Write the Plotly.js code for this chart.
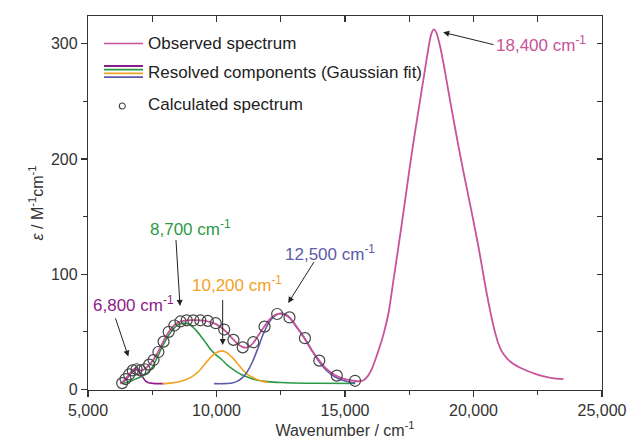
<!DOCTYPE html>
<html>
<head>
<meta charset="utf-8">
<script src="https://cdn.plot.ly/plotly-3.0.1.min.js"></script>
<style>html,body{margin:0;padding:0;background:#fff;}#chart{width:629px;height:441px;}</style>
</head>
<body>
<div id="chart"></div>
<script>
// Observed spectrum
var obsX = [6250,6350,6450,6550,6650,6750,6850,6950,7050,7150,7250,7350,7450,7550,7650,7750,7850,7950,8050,8150,8250,8350,8450,8550,8700,8850,9000,9200,9400,9600,9800,10000,10200,10400,10600,10800,11000,11150,11300,11450,11600,11750,11900,12050,12200,12350,12500,12650,12800,12950,13100,13250,13400,13550,13700,13850,14000,14200,14400,14600,14800,15000,15200,15400,15600,15750,15900,16050,16200,16350,16500,16700,16900,17100,17300,17500,17700,17900,18100,18250,18350,18450,18550,18700,18850,19000,19200,19400,19600,19800,20000,20200,20350,20500,20650,20800,20950,21100,21300,21500,21800,22100,22400,22700,23000,23300,23500];
var obsY = [5,6.5,9,11.5,14.5,17,18.5,17.5,16.5,17,18.5,20.5,23,26,29.5,33.5,38,42.5,46.5,50,53,55.5,57.2,58.5,59.5,60,60.2,60.2,60,59.3,58.2,56.5,53.5,49.5,44.5,40,37,36.3,37.5,41,46,51,56,60.3,63.5,65.3,65.8,65,63,59.5,55,50,45,39.5,34,29.5,25,19.5,15.5,12.5,10.5,9,8,7.3,7.2,8.5,12,18,27,37,48,67,97,127,158,190,220,248,276,297,308,312.5,310,298,281,262,237,213,190,168,146,123,104,85,68,53,41,33,27,23,19,16,13.5,11.5,10,9.2,9];

// Calculated spectrum (open circles)
var calcX = [6330,6460,6600,6740,6890,7040,7200,7380,7550,7740,7940,8140,8360,8600,8840,9100,9370,9660,9970,10300,10660,11020,11430,11870,12360,12840,13440,14000,14680,15390];
var calcY = [5.5,9,13,16.5,17.5,16.5,17.5,21.5,25.5,32.5,41.5,50,55.5,59,60,60,60,59.5,57.5,52,43,36.5,41,54.5,65.5,62.5,44.5,25,12,7.5];

// Resolved components (Gaussian fit)
var c6800X = [6330,6450,6550,6650,6750,6850,6950,7050,7150,7250,7350,7450,7600,7800,7950];
var c6800Y = [6,8,10.5,13.5,16,17.5,16.5,13,9.5,7,5.8,5.3,5,5,5];
var c8700X = [6330,6500,6700,6900,7100,7300,7500,7700,7900,8100,8300,8500,8700,8850,9000,9200,9400,9600,9800,10000,10200,10400,10600,10800,11000,11300,11600,12000,12500,13000,14000,15400];
var c8700Y = [5,6,7.5,9.5,11.5,14,19,28,37.5,45.5,52,56,57.5,57.2,55.5,51.5,46,40,34,29.5,26,21.5,18,15,12.5,10,8,6.8,6,5.6,5.3,5.2];
var c10200X = [7900,8200,8500,8800,9000,9200,9400,9600,9800,10000,10200,10400,10600,10800,11000,11200,11400,11600,11800,12000];
var c10200Y = [5,5.5,6.5,8.5,10.5,13.5,18,23.5,28.5,32,33.5,32,28,23,17.5,13,10.5,8.5,7,6];
var c12500X = [9900,10300,10600,10800,11000,11200,11400,11600,11800,12000,12200,12400,12550,12700,12900,13100,13300,13500,13700,13900,14100,14300,14600,14900,15200,15400];
var c12500Y = [5,5,5.5,7,10,15.5,24,35,47,56.5,62.5,65.5,66,65,61,54.5,49,42,34.5,27,21,16,11,8,6.3,5.8];

// Labels
var peakLabels = ['6,800','8,700','10,200','12,500','18,400'];
var legendLabels = ['Observed spectrum','Resolved components (Gaussian fit)','Calculated spectrum'];

var cPink = '#c8529b', cPurple = '#8e1b8a', cGreen = '#2c9a45', cOrange = '#f2a227', cBlue = '#5c5ba8';
var FONT = 'Liberation Sans, Arial, Helvetica, sans-serif';
var txt = '#222';

var traces = [
  {x:c6800X, y:c6800Y, mode:'lines', line:{color:cPurple, width:1.6}, showlegend:false, hoverinfo:'skip'},
  {x:c8700X, y:c8700Y, mode:'lines', line:{color:cGreen, width:1.6, shape:'spline', smoothing:0.6}, showlegend:false, hoverinfo:'skip'},
  {x:c10200X, y:c10200Y, mode:'lines', line:{color:cOrange, width:1.6, shape:'spline', smoothing:0.6}, showlegend:false, hoverinfo:'skip'},
  {x:c12500X, y:c12500Y, mode:'lines', line:{color:cBlue, width:1.6, shape:'spline', smoothing:0.6}, showlegend:false, hoverinfo:'skip'},
  {x:obsX, y:obsY, mode:'lines', line:{color:cPink, width:1.8, shape:'spline', smoothing:0.5}, showlegend:false, hoverinfo:'skip'},
  {x:calcX, y:calcY, mode:'markers', marker:{symbol:'circle-open', size:11, color:'#444', line:{width:1.2, color:'#444'}}, showlegend:false, hoverinfo:'skip'},
  {x:[], y:[], xaxis:'x2', yaxis:'y2', showlegend:false, hoverinfo:'skip'}
];

function px2paperX(p){ return (p-88)/514; }
function px2paperY(p){ return (390-p)/374; }

var shapes = [];
// legend samples
shapes.push({type:'line', xref:'paper', yref:'paper', x0:px2paperX(104), x1:px2paperX(143), y0:px2paperY(43.5), y1:px2paperY(43.5), line:{color:cPink, width:1.6}});
var lc = [cPurple, cGreen, cOrange, cBlue];
var ly = [66, 69.7, 73.4, 77.1];
for (var i=0;i<4;i++){
  shapes.push({type:'line', xref:'paper', yref:'paper', x0:px2paperX(104), x1:px2paperX(143), y0:px2paperY(ly[i]), y1:px2paperY(ly[i]), line:{color:lc[i], width:1.8}});
}
shapes.push({type:'circle', xref:'paper', yref:'paper', x0:px2paperX(119.3), x1:px2paperX(125.3), y0:px2paperY(109), y1:px2paperY(103), line:{color:'#444', width:1.1}});

var annotations = [];
var legY = [43.5, 72, 105];
for (var j=0;j<3;j++){
  annotations.push({xref:'paper', yref:'paper', x:px2paperX(145.5), y:px2paperY(legY[j]), xanchor:'left', yanchor:'middle', text:legendLabels[j], showarrow:false, font:{family:FONT, size:17, color:txt}});
}
// peak labels (text)
var labPos = [[133,304,cPurple],[190,228,cGreen],[237,284,cOrange],[330,253,cBlue],[541,44,cPink]];
for (var k=0;k<5;k++){
  annotations.push({xref:'paper', yref:'paper', x:px2paperX(labPos[k][0]), y:px2paperY(labPos[k][1]), xanchor:'center', yanchor:'middle', text:peakLabels[k]+' cm<sup>-1</sup>', showarrow:false, font:{family:FONT, size:17, color:labPos[k][2]}});
}
// arrows: [headX, headY, tailX, tailY] in data units
var arrows = [[6570,28.5,6050,63],[8580,72.5,8420,131],[10240,38.5,10240,79],[12790,75,13830,112],[18820,310,20840,299]];
for (var m=0;m<arrows.length;m++){
  annotations.push({x:arrows[m][0], y:arrows[m][1], ax:arrows[m][2], ay:arrows[m][3], xref:'x', yref:'y', axref:'x', ayref:'y', text:'', showarrow:true, arrowhead:2, arrowsize:1.2, arrowwidth:1, arrowcolor:'#222'});
}

var axCommon = {showgrid:false, zeroline:false, showline:true, linecolor:'#333', linewidth:1.2, tickcolor:'#333', tickwidth:1.2};

var layout = {
  width:629, height:441,
  margin:{l:88, r:27, t:16, b:51},
  paper_bgcolor:'#fff', plot_bgcolor:'#fff',
  font:{family:FONT, size:16, color:'#333'},
  showlegend:false,
  xaxis: Object.assign({}, axCommon, {
    range:[5000,25000], tick0:5000, dtick:5000, tickformat:',', ticks:'outside', ticklen:6,
    minor:{tick0:5000, dtick:2500, ticks:'outside', ticklen:4, tickcolor:'#333', tickwidth:1.2, showgrid:false},
    tickfont:{family:FONT, size:16, color:'#333'},
    title:{text:'Wavenumber / cm<sup>-1</sup>', standoff:5, font:{family:FONT, size:16, color:'#333'}}
  }),
  xaxis2: Object.assign({}, axCommon, {
    overlaying:'x', side:'top', matches:'x', range:[5000,25000], tick0:5000, dtick:5000, ticks:'inside', ticklen:6, showticklabels:false,
    minor:{tick0:5000, dtick:2500, ticks:'inside', ticklen:6, tickcolor:'#333', tickwidth:1.2, showgrid:false}
  }),
  yaxis: Object.assign({}, axCommon, {
    range:[-0.5,324.2], tick0:0, dtick:100, ticks:'outside', ticklen:6,
    minor:{tick0:0, dtick:50, ticks:'outside', ticklen:4, tickcolor:'#333', tickwidth:1.2, showgrid:false},
    tickfont:{family:FONT, size:16, color:'#333'},
    title:{text:'<i>ε</i> / M<sup>-1</sup>cm<sup>-1</sup>', standoff:3, font:{family:FONT, size:16, color:'#333'}}
  }),
  yaxis2: Object.assign({}, axCommon, {
    overlaying:'y', side:'right', matches:'y', range:[-0.5,324.2], tick0:0, dtick:100, ticks:'inside', ticklen:5, showticklabels:false,
    minor:{tick0:0, dtick:50, ticks:'inside', ticklen:5, tickcolor:'#333', tickwidth:1.2, showgrid:false}
  }),
  shapes:shapes,
  annotations:annotations
};

Plotly.newPlot('chart', traces, layout, {displayModeBar:false, staticPlot:true});
</script>
</body>
</html>
